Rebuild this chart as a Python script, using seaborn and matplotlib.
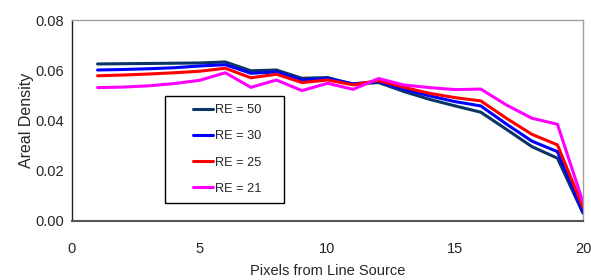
import matplotlib
matplotlib.use("Agg")
import matplotlib.pyplot as plt
import seaborn as sns
import pandas as pd
from matplotlib.patches import Rectangle

x_pixels = list(range(1, 21))
re50 = [0.0625, 0.0626, 0.0627, 0.0628, 0.0629, 0.0633, 0.0598, 0.0601, 0.0568, 0.0571,
        0.0544, 0.0551, 0.0515, 0.0484, 0.0458, 0.0433, 0.0365, 0.0296, 0.0250, 0.0031]
re30 = [0.0601, 0.0603, 0.0606, 0.0610, 0.0617, 0.0622, 0.0588, 0.0593, 0.0561, 0.0567,
        0.0546, 0.0555, 0.0524, 0.0498, 0.0475, 0.0458, 0.0386, 0.0318, 0.0276, 0.0035]
re25 = [0.0578, 0.0581, 0.0585, 0.0590, 0.0596, 0.0608, 0.0570, 0.0584, 0.0551, 0.0561,
        0.0542, 0.0559, 0.0532, 0.0508, 0.0491, 0.0478, 0.0409, 0.0345, 0.0303, 0.0055]
re21 = [0.0531, 0.0533, 0.0538, 0.0547, 0.0560, 0.0590, 0.0532, 0.0561, 0.0519, 0.0548,
        0.0524, 0.0567, 0.0541, 0.0531, 0.0523, 0.0525, 0.0462, 0.0409, 0.0385, 0.0075]
series_labels = ["RE = 50", "RE = 30", "RE = 25", "RE = 21"]
series_colors = ["#0a3566", "#0000ff", "#ff0000", "#ff00ff"]
x_ticks = [0, 5, 10, 15, 20]
y_ticks = [0.00, 0.02, 0.04, 0.06, 0.08]

frames = []
for lab, vals in zip(series_labels, [re50, re30, re25, re21]):
    frames.append(pd.DataFrame({"x": x_pixels, "y": vals, "series": lab}))
df = pd.concat(frames, ignore_index=True)

sns.set_style("white")
plt.rcParams["font.family"] = ["Liberation Sans", "DejaVu Sans"]

fig = plt.figure(figsize=(5.91, 2.80), dpi=100)
ax = fig.add_axes([72/591, 1-221/280, (583-72)/591, (221-20)/280])

sns.lineplot(data=df, x="x", y="y", hue="series", hue_order=series_labels,
             palette=dict(zip(series_labels, series_colors)), linewidth=2.2,
             sort=False, ax=ax, legend=True)
for ln in ax.get_lines():
    ln.set_solid_joinstyle("round")
    ln.set_solid_capstyle("round")

ax.set_xlim(0, 20)
ax.set_ylim(0, 0.08)
ax.set_xticks(x_ticks)
ax.set_xticklabels([str(t) for t in x_ticks], fontsize=10.5)
ax.set_yticks(y_ticks)
ax.set_yticklabels([f"{t:.2f}" for t in y_ticks], fontsize=10.5)
ax.set_xlabel("Pixels from Line Source", fontsize=10.5, labelpad=6)
ax.set_ylabel("Areal Density", fontsize=11.5, labelpad=1)

ax.tick_params(axis="x", direction="inout", length=8, width=1, color="#555555", pad=11)
ax.tick_params(axis="y", direction="out", length=4, width=1, color="#222222", pad=2)

ax.spines["left"].set_color("#222222")
ax.spines["left"].set_linewidth(1.0)
ax.spines["bottom"].set_color("#555555")
ax.spines["bottom"].set_linewidth(1.5)
for s in ["top", "right"]:
    ax.spines[s].set_color("#a0a0a0")
    ax.spines[s].set_linewidth(1.0)

# legend box
x0, x1 = (165-72)/511, (284-72)/511
y0, y1 = (221-203)/201, (221-96)/201
ax.add_patch(Rectangle((x0, y0), x1-x0, y1-y0, transform=ax.transAxes,
                       facecolor="white", edgecolor="black", linewidth=1.0, zorder=4))
handles, labels = ax.get_legend_handles_labels()
leg = ax.legend(handles, labels, loc="center", bbox_to_anchor=((x0+x1)/2 + 0.005, (y0+y1)/2),
                bbox_transform=ax.transAxes, frameon=False, fontsize=9.2,
                handlelength=1.6, handletextpad=0.15, labelspacing=1.1)
leg.set_zorder(5)

fig.savefig("out.png", dpi=100)
